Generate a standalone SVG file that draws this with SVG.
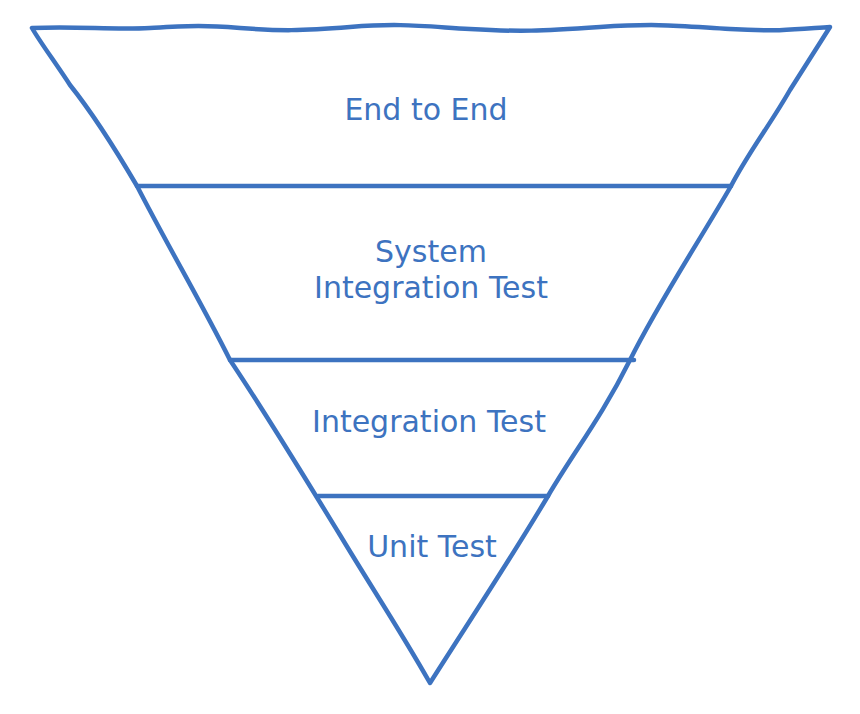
<svg xmlns="http://www.w3.org/2000/svg" width="860" height="714" viewBox="0 0 860 714">
<style>
.ln{fill:none;stroke:#3d73c0;stroke-width:4.5;stroke-linecap:round;stroke-linejoin:round}
.t{font-family:"DejaVu Sans",sans-serif;font-size:30px;fill:#3d73c0;text-anchor:middle}
</style>
<rect width="860" height="714" fill="#ffffff"/>
<g id="funnel">
<path class="ln" d="M32,28 C80,26 110,30 150,28 S200,25 240,28 S300,31 350,27 S420,26 470,29 S540,31 600,27 S680,26 730,29 S800,29 830,27 L790,90 C770,125 750,150 731,186 C700,240 660,300 630,360 C600,420 575,450 548,496 C510,560 470,620 430,683 C400,630 370,585 340,535 C300,470 270,420 230,360 C200,300 170,250 137,186 C110,140 90,110 70,85 C55,62 40,42 32,28 Z"/>
</g>
<g id="dividers">
<path class="ln" d="M137,186 L731,186"/>
<path class="ln" d="M230,360 L634,360"/>
<path class="ln" d="M318,496 L548,496"/>
</g>
<g id="level-e2e"><text class="t" x="426" y="120">End to End</text></g>
<g id="level-sit"><text class="t" x="431" y="262">System</text><text class="t" x="431" y="298">Integration Test</text></g>
<g id="level-it"><text class="t" x="429" y="432">Integration Test</text></g>
<g id="level-unit"><text class="t" x="432" y="557">Unit Test</text></g>
</svg>
